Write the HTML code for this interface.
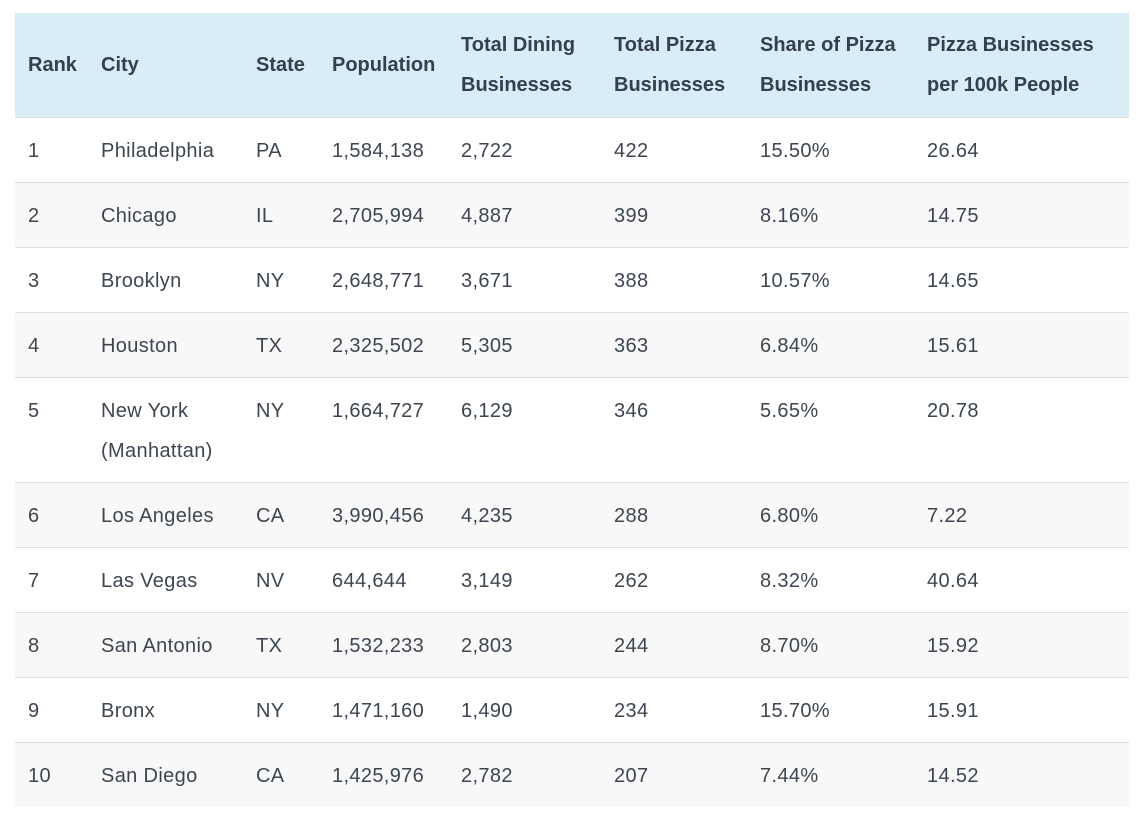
<!DOCTYPE html>
<html><head><meta charset="utf-8"><style>
body{margin:0;width:1136px;height:831px;background:#fff;font-family:"Liberation Sans",sans-serif;position:relative;overflow:hidden}
.hdr{position:absolute;left:15px;top:13px;width:1114px;height:104px;background:#d9edf7}
.row{position:absolute;left:15px;width:1114px;border-top:1px solid #dedede;box-sizing:border-box}
.c{position:absolute;font-size:20px;line-height:40px;color:#3d4650;white-space:nowrap}
.b{letter-spacing:0.35px}
.h{font-weight:bold;color:#34404c}
</style></head><body>
<div class="hdr"></div>
<div id="t"></div>
<script>
const colX=[28,101,256,332,461,614,760,927];
const headers=[["Rank"],["City"],["State"],["Population"],["Total Dining","Businesses"],["Total Pizza","Businesses"],["Share of Pizza","Businesses"],["Pizza Businesses","per 100k People"]];
const rows=[
["1",["Philadelphia"],"PA","1,584,138","2,722","422","15.50%","26.64"],
["2",["Chicago"],"IL","2,705,994","4,887","399","8.16%","14.75"],
["3",["Brooklyn"],"NY","2,648,771","3,671","388","10.57%","14.65"],
["4",["Houston"],"TX","2,325,502","5,305","363","6.84%","15.61"],
["5",["New York","(Manhattan)"],"NY","1,664,727","6,129","346","5.65%","20.78"],
["6",["Los Angeles"],"CA","3,990,456","4,235","288","6.80%","7.22"],
["7",["Las Vegas"],"NV","644,644","3,149","262","8.32%","40.64"],
["8",["San Antonio"],"TX","1,532,233","2,803","244","8.70%","15.92"],
["9",["Bronx"],"NY","1,471,160","1,490","234","15.70%","15.91"],
["10",["San Diego"],"CA","1,425,976","2,782","207","7.44%","14.52"]];
const t=document.getElementById('t');
function cell(x,y,lines,cls,name){
 const d=document.createElement('div');d.className='c '+cls;
 
 
 d.style.left=x+'px';d.style.top=y+'px';d.innerHTML=lines.join('<br>');t.appendChild(d);}
headers.forEach((h,i)=>cell(colX[i],h.length>1?25:45,h,'h','header-'+h.join('-').toLowerCase().replace(/[^a-z0-9]+/g,'-')));
let y=117;
rows.forEach((r,ri)=>{
 const hgt=r[1].length>1?105:65;
 const rd=document.createElement('div');rd.className='row';
 
 
 rd.style.top=y+'px';rd.style.height=hgt+'px';rd.style.background=ri%2?'#f8f8f8':'#fff';t.appendChild(rd);
 r.forEach((v,i)=>cell(colX[i],y+14,Array.isArray(v)?v:[v],'b','cell-'+(ri+1)+'-'+i));
 y+=hgt;});
</script>
</body></html>
